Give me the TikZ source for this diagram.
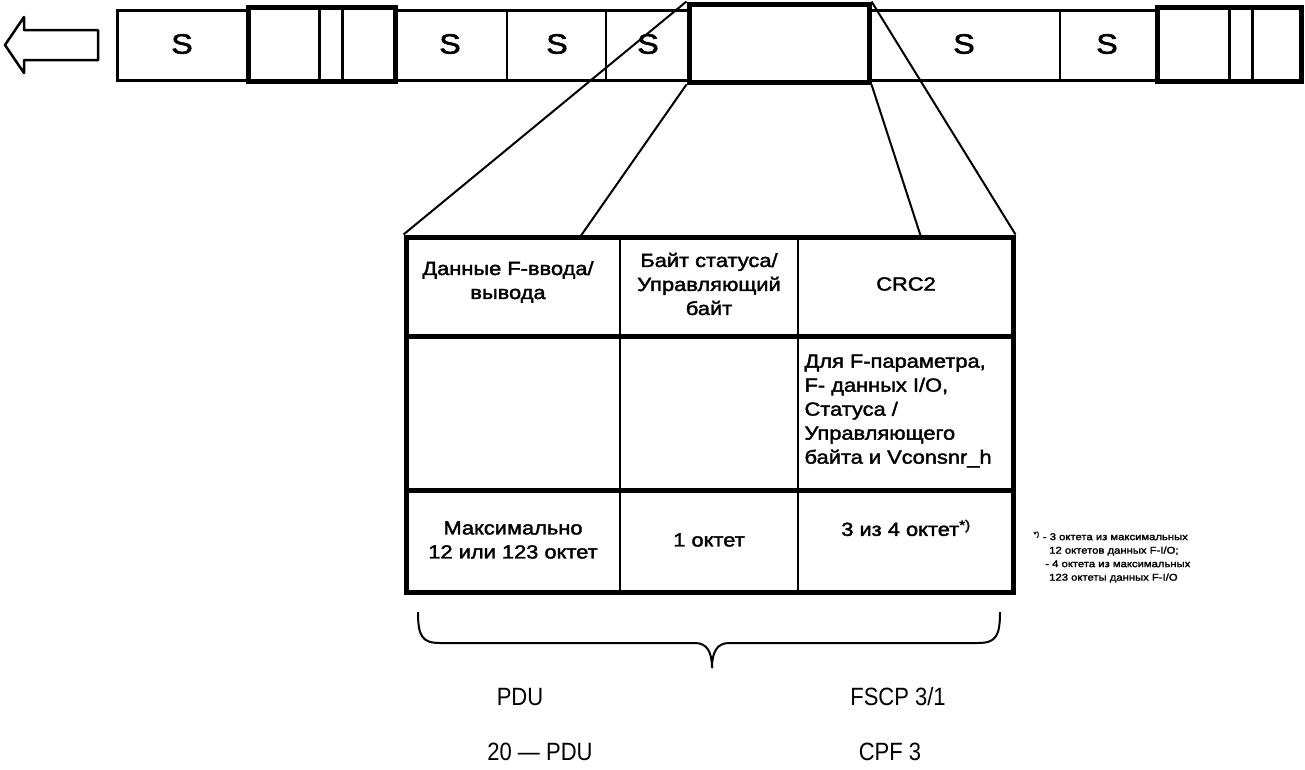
\documentclass[tikz,border=0pt]{standalone}
\usepackage{fontspec}
\setmainfont{Liberation Sans}
\newfontfamily\scanfont{Liberation Sans}[FakeStretch=1.15,FakeBold=2]
\newfontfamily\capfont{Liberation Sans}[FakeStretch=0.88]
\usetikzlibrary{positioning}

\begin{document}
\begin{tikzpicture}[x=1pt, y=-1pt,
  frame/.style={draw, line width=3pt},
  heavy/.style={draw, line width=5pt, fill=white},
  cell/.style={font=\scanfont\fontsize{19}{24}\selectfont, align=center},
  link/.style={line width=2pt},
  caption/.style={font=\capfont\fontsize{25}{26}\selectfont}]
\useasboundingbox (0,0) rectangle (1305,769);

% Telegramm
\draw[line width=2.5pt, line join=round] (5,45) -- (24,17) -- (24,30) -- (98,30) -- (98,60) -- (24,60) -- (24,73) -- cycle;
\draw[frame] (117,10) rectangle (1302,80);
\foreach \x in {507, 606, 1060}
	\draw[line width=2.5pt] (\x,10) -- (\x,80);

\draw[heavy] (248,7) rectangle (395,81);
\draw[heavy] (1157,7) rectangle (1301,81);
\foreach \x in {319, 342, 1229, 1252}
	\draw[line width=3pt] (\x,7) -- (\x,81);

\foreach \x [count=\i] in {182, 450, 557, 648, 964, 1107}
	\node[font=\scanfont\fontsize{28}{28}\selectfont] (s\i) at (\x,44) {S};

\node[heavy, minimum width=180pt, minimum height=78pt, inner sep=0pt] (hl) at (779,43) {};

% Tabelle
\node[draw, line width=5pt, minimum width=607pt, minimum height=355pt, inner sep=0pt] (tbl) at (709.5,414.5) {};
\draw[line width=5pt] (406,336) -- (1013,336);
\draw[line width=5pt] (406,490) -- (1013,490);
\draw[line width=2pt] (620,237) -- (620,592);
\draw[line width=2pt] (798,237) -- (798,592);

\node[cell] (h1) at (508,282) {Данные F-ввода/\\вывода};
\node[cell] (h2) at (709,284) {Байт статуса/\\Управляющий\\байт};
\node[cell] (h3) at (906,284) {CRC2};
\node[cell, align=left, anchor=west] (m3) at (801,411) {Для F-параметра,\\F- данных I/O,\\Статуса /\\Управляющего\\байта и Vconsnr\_h};
\node[cell] (b1) at (513,540) {Максимально\\12 или 123 октет};
\node[cell] (b2) at (709,540) {1 октет};
\node[cell] (b3) at (906,528) {3 из 4 октет\textsuperscript{*)}};

\node[font=\scanfont\fontsize{9.8}{13.5}\selectfont, align=left, anchor=north west] (fn) at (1030,528)
	{\textsuperscript{*)} - 3 октета из максимальных\\\hspace*{1.6em}12 октетов данных F-I/O;\\\hspace*{1.2em}- 4 октета из максимальных\\\hspace*{1.6em}123 октеты данных F-I/O};

% Verbindungen
\coordinate (t1) at (580,237);
\coordinate (t2) at (921,237);
\draw[link] (hl.north west) -- (tbl.north west);
\draw[link] (hl.south west) -- (t1);
\draw[link] (hl.south east) -- (t2);
\draw[link] (hl.north east) -- (tbl.north east);

% Klammer
\draw[link] (418,612) .. controls (418,636) and (422,643) .. (440,643) -- (695,643) .. controls (707,643) and (712,652) .. (712,668);
\draw[link] (1000,612) .. controls (1000,636) and (996,643) .. (978,643) -- (729,643) .. controls (717,643) and (712,652) .. (712,668);

\node[caption] (pdu) at (520,697) {PDU};
\node[caption] (fscp) at (898,697) {FSCP 3/1};
\node[caption] (fig) at (540,752) {20 — PDU};
\node[caption] (cpf) at (890,752) {CPF 3};
\end{tikzpicture}
\end{document}
